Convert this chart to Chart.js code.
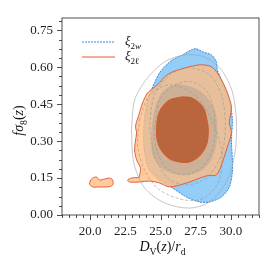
<!DOCTYPE html>
<html>
<head>
<meta charset="utf-8">
<script src="https://cdn.jsdelivr.net/npm/chart.js@4.4.1/dist/chart.umd.min.js"></script>
<style>
  html, body { margin: 0; padding: 0; background: #fff; }
</style>
</head>
<body>
<canvas id="chart" width="273" height="273"></canvas>
<script>
const xTicks = [20.0, 22.5, 25.0, 27.5, 30.0];
const yTicks = [0.00, 0.15, 0.30, 0.45, 0.60, 0.75];
const xRange = [18, 32];
const yRange = [0, 0.8];

// contour outlines, [D_V/r_d, f sigma8]
const w95 = [
  [24.08,0.467],[24.36,0.508],[24.57,0.537],[24.93,0.577],[25.29,0.602],[25.85,0.630],
  [26.56,0.650],[27.20,0.671],[27.55,0.675],[27.98,0.663],[28.62,0.650],[28.97,0.622],
  [29.04,0.589],[29.33,0.549],[29.68,0.500],[29.96,0.447],[30.11,0.386],[30.04,0.305],
  [30.11,0.224],[30.11,0.175],[29.89,0.114],[29.33,0.073],[28.48,0.053],[27.77,0.053],
  [26.84,0.073],[25.85,0.110],[24.93,0.142],[24.22,0.183],[23.94,0.232],[23.80,0.305],
  [23.87,0.394]
];
const w68 = [
  [26.21,0.533],[27.06,0.524],[27.91,0.500],[28.48,0.467],[28.90,0.419],[29.04,0.354],
  [28.97,0.285],[28.62,0.224],[27.98,0.183],[27.06,0.163],[25.99,0.167],[25.07,0.191],
  [24.43,0.244],[24.36,0.325],[24.50,0.407],[24.79,0.467],[25.36,0.512]
];
const l95 = [
  [23.51,0.159],[23.58,0.191],[23.30,0.224],[23.16,0.264],[23.23,0.305],[23.30,0.333],
  [23.23,0.362],[23.51,0.415],[23.72,0.455],[24.08,0.496],[24.43,0.512],[24.93,0.537],
  [25.29,0.561],[25.85,0.581],[27.06,0.602],[27.91,0.610],[28.62,0.602],[29.04,0.577],
  [29.33,0.549],[29.68,0.508],[30.04,0.439],[29.89,0.374],[30.04,0.333],[29.68,0.264],
  [29.33,0.203],[28.97,0.163],[28.26,0.159],[26.84,0.130],[25.64,0.114],[24.93,0.130],
  [24.22,0.138],[23.51,0.134],[22.80,0.134],[22.66,0.142],[22.94,0.150],[23.51,0.154]
];
const l95Island = [
  [20.04,0.142],[20.18,0.150],[20.46,0.154],[20.67,0.142],[21.03,0.146],[21.38,0.150],
  [21.60,0.142],[21.60,0.122],[21.24,0.114],[20.67,0.114],[20.18,0.114],[19.96,0.126]
];
const l68 = [
  [26.56,0.480],[25.64,0.467],[25.07,0.435],[24.79,0.394],[24.72,0.325],[24.86,0.285],
  [25.14,0.256],[25.64,0.228],[26.35,0.215],[27.06,0.215],[27.62,0.232],[28.05,0.260],
  [28.33,0.297],[28.40,0.346],[28.33,0.378],[28.12,0.427],[27.77,0.455],[27.20,0.476]
];
const grey1 = [
  [22.94,0.346],[23.16,0.467],[24.08,0.557],[25.29,0.622],[26.70,0.650],[28.12,0.642],
  [29.33,0.589],[30.11,0.500],[30.39,0.386],[30.32,0.264],[29.75,0.142],[28.48,0.053],
  [27.06,0.028],[25.29,0.049],[23.87,0.110],[23.09,0.215]
];
const grey2 = [
  [24.22,0.366],[24.57,0.488],[25.64,0.569],[27.06,0.598],[28.48,0.569],[29.33,0.488],
  [29.61,0.366],[29.33,0.244],[28.33,0.154],[26.91,0.122],[25.50,0.150],[24.57,0.244]
];
const grey3 = [
  [24.57,0.354],[24.93,0.467],[25.99,0.528],[27.20,0.541],[28.33,0.500],[28.83,0.407],
  [28.76,0.285],[28.05,0.199],[26.70,0.163],[25.43,0.191],[24.72,0.264]
];
const grey4 = [
  [23.51,0.386],[24.22,0.488],[25.64,0.528],[27.41,0.488],[28.62,0.386],[29.33,0.264],
  [29.18,0.142],[28.12,0.069],[26.70,0.061],[24.93,0.102],[23.87,0.183],[23.37,0.285]
];

const SERIF = '"Liberation Serif", "DejaVu Serif", serif';
const xMinor = 0.5, yMinor = 0.0375;

const loop = (a) => a.concat([a[0]]).map(p => ({ x: p[0], y: p[1] }));

function region(pts, bg, edge, dash, order, width) {
  return {
    data: loop(pts),
    backgroundColor: bg,
    borderColor: edge,
    borderWidth: width == null ? 1 : width,
    borderDash: dash || [],
    fill: bg ? 'shape' : false,
    tension: 0.3,
    pointRadius: 0,
    order
  };
}

// draws italic / roman / subscript pieces one after another
function rich(ctx, parts, x, y, size, align) {
  const fontOf = (p) => {
    const sub = p[1].startsWith('s');
    const it = p[1].endsWith('i');
    return (it ? 'italic ' : '') + (sub ? (size * 0.7).toFixed(1) : size) + 'px ' + SERIF;
  };
  let w = 0;
  parts.forEach(p => { ctx.font = fontOf(p); w += ctx.measureText(p[0]).width; });
  let cx = align === 'center' ? x - w / 2 : x;
  ctx.textAlign = 'left';
  ctx.textBaseline = 'alphabetic';
  parts.forEach(p => {
    ctx.font = fontOf(p);
    const dy = p[1].startsWith('s') ? size * 0.28 : 0;
    ctx.fillText(p[0], cx, y + dy);
    cx += ctx.measureText(p[0]).width;
  });
}

const decor = {
  id: 'decor',
  afterDraw(chart) {
    const { ctx, chartArea: a, scales: { x, y } } = chart;
    ctx.save();
    ctx.strokeStyle = '#222';
    ctx.lineWidth = 0.8;
    ctx.strokeRect(a.left, a.top, a.right - a.left, a.bottom - a.top);

    ctx.beginPath();
    for (let i = 0; ; i++) {
      const v = xRange[0] + i * xMinor;
      if (v > xRange[1] + 1e-9) break;
      const px = Math.round(x.getPixelForValue(v)) + 0.5;
      const major = xTicks.some(t => Math.abs(t - v) < 1e-6);
      ctx.moveTo(px, a.bottom);
      ctx.lineTo(px, a.bottom + (major ? 5 : 3));
    }
    for (let i = 0; ; i++) {
      const v = yRange[0] + i * yMinor;
      if (v > yRange[1] + 1e-9) break;
      const py = Math.round(y.getPixelForValue(v)) + 0.5;
      const major = yTicks.some(t => Math.abs(t - v) < 1e-6);
      ctx.moveTo(a.left, py);
      ctx.lineTo(a.left - (major ? 5 : 3), py);
    }
    ctx.stroke();

    // axis titles
    ctx.fillStyle = '#111';
    rich(ctx, [['D', 'i'], ['V', 'sr'], ['(', 'r'], ['z', 'i'], [')/', 'r'], ['r', 'i'], ['d', 'sr']],
      (a.left + a.right) / 2 + 2, 251, 14, 'center');
    ctx.save();
    ctx.translate(23, (a.top + a.bottom) / 2 + 4);
    ctx.rotate(-Math.PI / 2);
    rich(ctx, [['fσ', 'i'], ['8', 'sr'], ['(', 'r'], ['z', 'i'], [')', 'r']], 0, 0, 14, 'center');
    ctx.restore();

    // legend
    const lx = a.left + 20, lw = 33;
    ctx.lineWidth = 1;
    ctx.strokeStyle = '#3d86dc';
    ctx.setLineDash([2, 1]);
    ctx.beginPath(); ctx.moveTo(lx, a.top + 24); ctx.lineTo(lx + lw, a.top + 24); ctx.stroke();
    ctx.setLineDash([]);
    ctx.strokeStyle = '#e0603a';
    ctx.lineWidth = 1.2;
    ctx.beginPath(); ctx.moveTo(lx, a.top + 39); ctx.lineTo(lx + lw, a.top + 39); ctx.stroke();
    ctx.fillStyle = '#111';
    rich(ctx, [['ξ', 'i'], ['2', 'sr'], ['w', 'si']], lx + lw + 10, a.top + 27, 13);
    rich(ctx, [['ξ', 'i'], ['2', 'sr'], ['ℓ', 'sr']], lx + lw + 10, a.top + 42, 13);
    ctx.restore();
  }
};

new Chart(document.getElementById('chart'), {
  type: 'line',
  data: {
    datasets: [
      region(w95, '#93cdf8', '#3d86dc', [2, 1], 20),
      region(l95, 'rgba(255,188,128,0.78)', '#e0603a', null, 19),
      region(l95Island, 'rgba(255,188,128,0.78)', '#e0603a', null, 18),
      region(w68, 'rgba(100,118,135,0.2)', 'rgba(0,0,0,0)', null, 17),
      region(grey1, null, 'rgba(165,165,165,0.8)', null, 16, 0.8),
      region(grey2, null, 'rgba(150,150,150,0.75)', [3, 2], 15, 0.8),
      region(grey3, null, 'rgba(150,150,150,0.75)', [3, 2], 14, 0.8),
      region(grey4, null, 'rgba(150,150,150,0.75)', [3, 2], 13, 0.8),
      region(l68, 'rgba(184,99,57,0.97)', '#d9552c', null, 1)
    ]
  },
  options: {
    responsive: false,
    devicePixelRatio: 1,
    animation: false,
    layout: { padding: { top: 18, right: 14, left: 0, bottom: 0 } },
    plugins: { legend: { display: false }, tooltip: { enabled: false } },
    scales: {
      x: {
        type: 'linear',
        min: xRange[0], max: xRange[1],
        afterFit: (s) => { s.height = 58; },
        afterBuildTicks: (s) => { s.ticks = xTicks.map(v => ({ value: v })); },
        grid: { display: false, drawTicks: false },
        border: { display: false },
        ticks: {
          padding: 9,
          color: '#222',
          font: { family: SERIF, size: 13 },
          callback: (v) => Number(v).toFixed(1)
        }
      },
      y: {
        type: 'linear',
        min: yRange[0], max: yRange[1],
        afterFit: (s) => { s.width = 62; },
        afterBuildTicks: (s) => { s.ticks = yTicks.map(v => ({ value: v })); },
        grid: { display: false, drawTicks: false },
        border: { display: false },
        ticks: {
          padding: 9,
          color: '#222',
          font: { family: SERIF, size: 13 },
          callback: (v) => Number(v).toFixed(2)
        }
      }
    }
  },
  plugins: [decor]
});
</script>
</body>
</html>
